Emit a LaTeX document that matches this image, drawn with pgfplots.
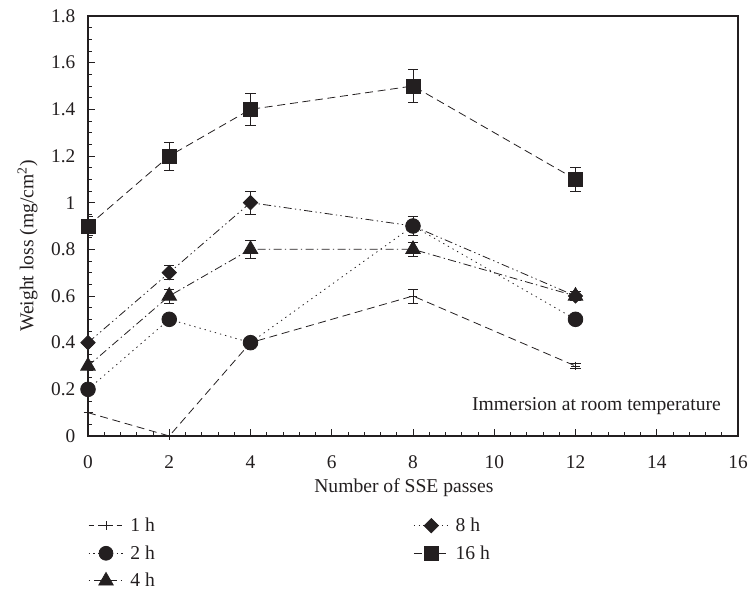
\documentclass[border=0pt]{standalone}
\usepackage{pgfplots}
\pgfplotsset{compat=1.18}
\usepackage{fontspec}
\setmainfont{Liberation Serif}
\definecolor{ink}{HTML}{231F20}

\pgfplotsset{
  wl/.style={ink, line width=0.6pt,
    /pgfplots/error bars/y dir=both, /pgfplots/error bars/y explicit,
    /pgfplots/error bars/error bar style={line width=0.6pt, solid},
    /pgfplots/error bars/error mark options={rotate=90, mark size=3.8pt, line width=0.6pt}},
}
\newcommand{\lblfont}{\fontsize{14.7}{17}\selectfont}

\begin{document}
\begin{tikzpicture}
\begin{axis}[
  scale only axis,
  width=487.5pt, height=315pt,
  xmin=0, xmax=16, ymin=0, ymax=1.8,
  xtick={0,2,...,16}, ytick={0,0.2,...,1.8},
  minor x tick num=4, minor y tick num=3,
  xtick pos=left, ytick pos=left,
  tick align=inside,
  major tick length=5.3pt, minor tick length=3pt,
  axis line style={ink, line width=0.8pt},
  every tick/.style={ink, line width=0.6pt},
  /pgf/number format/assume math mode=true,
  tick label style={font=\fontsize{14.5}{17}\selectfont, text=ink},
  xticklabel style={yshift=-11.5pt},
  yticklabel style={xshift=-6pt},
  every axis x label/.style={at={(rel axis cs:0.486,-0.124)}, anchor=center,
    font=\lblfont, text=ink},
  every axis y label/.style={at={(rel axis cs:-0.093,0.452)}, anchor=center,
    rotate=90, font=\lblfont, text=ink},
  xlabel={Number of SSE passes},
  ylabel={Weight loss (mg/cm\textsuperscript{2})},
  legend columns=2,
  legend cell align=left,
  legend style={draw=none, fill=none, inner sep=0pt, at={(rel axis cs:0,-0.188)},
    anchor=north west, font=\lblfont, text=ink,
    row sep=5pt,
    /tikz/every odd column/.append style={column sep=3pt},
    /tikz/every even column/.append style={column sep=192pt}},
  legend image code/.code={
    \draw[mark repeat=2, mark phase=2, #1]
      plot coordinates {(0pt,0pt) (13pt,0pt) (26pt,0pt)};},
]
% 1 h
\addplot+[forget plot, wl, mark=+, mark size=3.3pt, mark options={solid},
  dash pattern=on 6pt off 3.5pt]
  coordinates {(0,0.1) +- (0,0.0) (2,0) +- (0,0) (4,0.4) +- (0,0) (8,0.6) +- (0,0.03) (12,0.3) +- (0,0.01)};
% 2 h
\addplot+[forget plot, wl, mark=*, mark size=5.5pt, mark options={solid, fill=ink},
  dash pattern=on 1pt off 3pt]
  coordinates {(0,0.2) +- (0,0.01) (2,0.5) +- (0,0) (4,0.4) +- (0,0) (8,0.9) +- (0,0.04) (12,0.5) +- (0,0)};
% 4 h
\addplot+[forget plot, wl, mark=triangle*, mark size=6.3pt, mark options={solid, fill=ink},
  dash pattern=on 6pt off 2.5pt on 1pt off 2.5pt]
  coordinates {(0,0.3) +- (0,0.02) (2,0.6) +- (0,0.03) (4,0.8) +- (0,0.04) (8,0.8) +- (0,0.03) (12,0.6) +- (0,0.02)};
% 8 h
\addplot+[forget plot, wl, mark=square*, mark size=3.8pt, mark options={solid, fill=ink, rotate=45},
  dash pattern=on 6pt off 2.5pt on 1pt off 2.5pt on 1pt off 2.5pt]
  coordinates {(0,0.4) +- (0,0.01) (2,0.7) +- (0,0.03) (4,1.0) +- (0,0.05) (8,0.9) +- (0,0.04) (12,0.6) +- (0,0.02)};
% 16 h
\addplot+[forget plot, wl, mark=square*, mark size=5.2pt, mark options={solid, fill=ink},
  dash pattern=on 6pt off 3.5pt]
  coordinates {(0,0.9) +- (0,0.04) (2,1.2) +- (0,0.06) (4,1.4) +- (0,0.07) (8,1.5) +- (0,0.07) (12,1.1) +- (0,0.05)};

\addlegendimage{ink, line width=0.6pt, mark=+, mark size=3.3pt, mark options={solid}, dash pattern=on 4pt off 3pt}
\addlegendentry{1 h}
\addlegendimage{ink, line width=0.6pt, mark=square*, mark size=3.8pt, mark options={solid, fill=ink, rotate=45}, dash pattern=on 1pt off 2.5pt}
\addlegendentry{8 h}
\addlegendimage{ink, line width=0.6pt, mark=*, mark size=5.2pt, mark options={solid, fill=ink}, dash pattern=on 1pt off 2.5pt}
\addlegendentry{2 h}
\addlegendimage{ink, line width=0.6pt, mark=square*, mark size=5.2pt, mark options={solid, fill=ink}, dash pattern=on 6pt off 3pt}
\addlegendentry{16 h}
\addlegendimage{ink, line width=0.6pt, mark=triangle*, mark size=6.3pt, mark options={solid, fill=ink}, dash pattern=on 1pt off 3pt on 5pt off 3pt}
\addlegendentry{4 h}

\node[anchor=east, inner sep=0pt, font=\lblfont, text=ink]
  at (rel axis cs:0.974,0.071) {Immersion at room temperature};
\coordinate (bbsw) at (rel axis cs:-0.1354,-0.3667);
\coordinate (bbne) at (rel axis cs:1.0154,1.0381);
\end{axis}
\pgfresetboundingbox
\useasboundingbox (bbsw) rectangle (bbne);
\end{tikzpicture}
\end{document}
